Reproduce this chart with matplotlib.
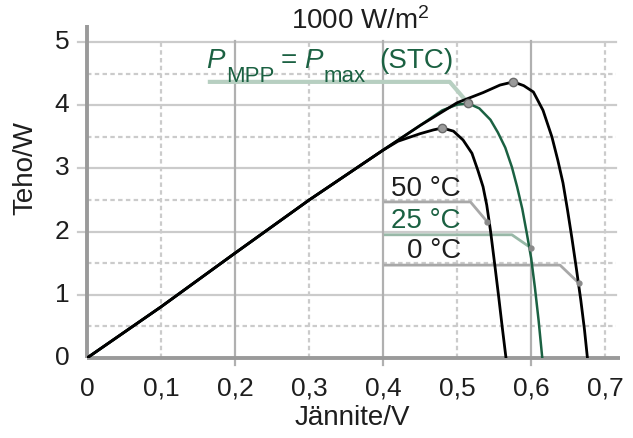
import matplotlib
matplotlib.use("Agg")
import matplotlib.pyplot as plt

plt.rcParams['font.family'] = ['Liberation Sans', 'DejaVu Sans']
plt.rcParams['mathtext.fontset'] = 'custom'
plt.rcParams['mathtext.rm'] = 'Liberation Sans'
plt.rcParams['mathtext.it'] = 'Liberation Sans:italic'

# ---- data ----
v_0c = [0, 0.1, 0.2, 0.3, 0.4, 0.45, 0.5, 0.535, 0.558, 0.576, 0.59, 0.603, 0.616,
        0.628, 0.636, 0.643, 0.649, 0.655, 0.661, 0.667, 0.672, 0.676]
p_0c = [0, 0.81, 1.66, 2.5, 3.29, 3.68, 4.04, 4.2, 4.32, 4.37, 4.31, 4.21, 3.92,
        3.50, 3.13, 2.77, 2.35, 1.90, 1.42, 0.92, 0.45, 0]

v_25c = [0, 0.1, 0.2, 0.3, 0.4, 0.45, 0.48, 0.5, 0.515, 0.53, 0.545, 0.555, 0.565,
         0.574, 0.581, 0.588, 0.594, 0.600, 0.605, 0.610, 0.615]
p_25c = [0, 0.81, 1.66, 2.5, 3.29, 3.68, 3.92, 4.01, 4.03, 3.95, 3.77, 3.57, 3.33,
         3.02, 2.71, 2.36, 1.98, 1.58, 1.12, 0.6, 0]

v_50c = [0, 0.1, 0.2, 0.3, 0.4, 0.42, 0.45, 0.468, 0.48, 0.495, 0.508, 0.52, 0.528,
         0.535, 0.540, 0.545, 0.551, 0.556, 0.561, 0.566]
p_50c = [0, 0.81, 1.66, 2.5, 3.29, 3.43, 3.55, 3.61, 3.64, 3.59, 3.45, 3.24, 2.97,
         2.71, 2.42, 2.02, 1.46, 0.98, 0.48, 0]

mpp_v = [0.576, 0.515, 0.48]
mpp_p = [4.37, 4.03, 3.64]

temp_labels = ["50 °C", "25 °C", "0 °C"]
x_ticks = [0, 0.1, 0.2, 0.3, 0.4, 0.5, 0.6, 0.7]
x_ticklabels = ["0", "0,1", "0,2", "0,3", "0,4", "0,5", "0,6", "0,7"]
y_ticks = [0, 1, 2, 3, 4, 5]
y_ticklabels = ["0", "1", "2", "3", "4", "5"]

GREEN = "#1b6142"
LGREEN = "#b7cfc1"
GRID = "#cbcbcb"
GRID_V = "#b0b0b0"
AXIS = "#9a9a9a"
TXT = "#1e1e1e"
FS = 19
FL = 20

W, H = 633, 438
fig = plt.figure(figsize=(W/100, H/100), dpi=100)
ax = fig.add_axes([87/W, 1-358/H, (620-87)/W, (358-25)/H])
ax.set_xlim(0, 0.72)
ax.set_ylim(0, 5.27)
for s in ax.spines.values():
    s.set_visible(False)
ax.set_xticks([])
ax.set_yticks([])

def fx(px):
    return px / W

def fy(py):
    return 1 - py / H

# grid
for y in [1, 2, 3, 4, 5]:
    ax.plot([-0.012, 0.715], [y, y], color=GRID, lw=1.6, clip_on=False, zorder=1)
for y in [0.5, 1.5, 2.5, 3.5, 4.5]:
    ax.plot([0, 0.715], [y, y], color=GRID, lw=1.6, ls=(0, (2, 1.5)), clip_on=False, zorder=1)
for x in [0.2, 0.4, 0.6]:
    ax.plot([x, x], [-0.11, 5.02], color=GRID_V, lw=1.6, clip_on=False, zorder=1)
for x in [0.1, 0.3, 0.5, 0.7]:
    ax.plot([x, x], [0, 5.02], color=GRID, lw=1.6, ls=(0, (2, 1.5)), clip_on=False, zorder=1)

# axes lines
ax.plot([0, 0], [0, 5.27], color=AXIS, lw=2.8, clip_on=False, zorder=2, solid_capstyle='butt')
ax.plot([0, 0.72], [0, 0], color=AXIS, lw=2.8, clip_on=False, zorder=2, solid_capstyle='butt')

# tick labels
for x, t in zip(x_ticks, x_ticklabels):
    ax.text(x, -0.49, t, ha='center', va='center', fontsize=FS, color=TXT)
for y, t in zip(y_ticks, y_ticklabels):
    ax.text(-0.024, y, t, ha='right', va='center', fontsize=FS, color=TXT)

# leader lines (drawn under curves)
ax.plot([0.403, 0.518, 0.541], [2.47, 2.47, 2.15], color="#a8a8a8", lw=2, zorder=3)
ax.plot([0.403, 0.574, 0.600], [1.95, 1.95, 1.74], color="#98b8a7", lw=2, zorder=3)
ax.plot([0.403, 0.639, 0.664], [1.47, 1.47, 1.19], color="#a8a8a8", lw=2, zorder=3)
ax.plot([0.166, 0.49, 0.515], [4.37, 4.37, 4.03], color=LGREEN, lw=3, zorder=3)

# curves
ax.plot(v_25c, p_25c, color=GREEN, lw=1.8, zorder=4)
ax.plot(v_0c, p_0c, color="black", lw=2, zorder=5)
ax.plot(v_50c, p_50c, color="black", lw=2, zorder=5)

ax.plot(mpp_v, mpp_p, ls='none', marker='o', ms=6, mfc="#9a9a9a", mec="#6a6a6a", mew=1, zorder=6)
ax.plot([0.541, 0.600, 0.664], [2.15, 1.74, 1.19], ls='none', marker='o', ms=3.5,
        mfc="#8a8a8a", mec="#8a8a8a", zorder=6)

# temperature labels
ax.text(0.505, 2.67, temp_labels[0], ha='right', va='center', fontsize=FL, color=TXT, zorder=7)
ax.text(0.505, 2.17, temp_labels[1], ha='right', va='center', fontsize=FL, color=GREEN, zorder=7)
ax.text(0.505, 1.70, temp_labels[2], ha='right', va='center', fontsize=FL, color=TXT, zorder=7)

# P_MPP = P_max (STC) label, built from pieces
fig.text(fx(206), fy(68), "P", style='italic', fontsize=FL, color=GREEN, va='baseline', ha='left')
fig.text(fx(226), fy(82), "MPP", fontsize=16, color=GREEN, va='baseline', ha='left')
fig.text(fx(281), fy(68), "=", fontsize=FL, color=GREEN, va='baseline', ha='left')
fig.text(fx(304), fy(68), "P", style='italic', fontsize=FL, color=GREEN, va='baseline', ha='left')
fig.text(fx(324), fy(82), "max", fontsize=16, color=GREEN, va='baseline', ha='left')
fig.text(fx(379), fy(68), "(STC)", fontsize=FL, color=GREEN, va='baseline', ha='left')

# title
fig.text(fx(360), fy(21), "1000 W/m$^2$", ha='center', va='center', fontsize=FL, color=TXT)

# axis labels
fig.text(fx(25), fy(168), "Teho/W", rotation=90, ha='center', va='center', fontsize=FL, color=TXT)
fig.text(fx(352), fy(418), "Jännite/V", ha='center', va='center', fontsize=FL, color=TXT)

fig.savefig("out.png", dpi=100)
